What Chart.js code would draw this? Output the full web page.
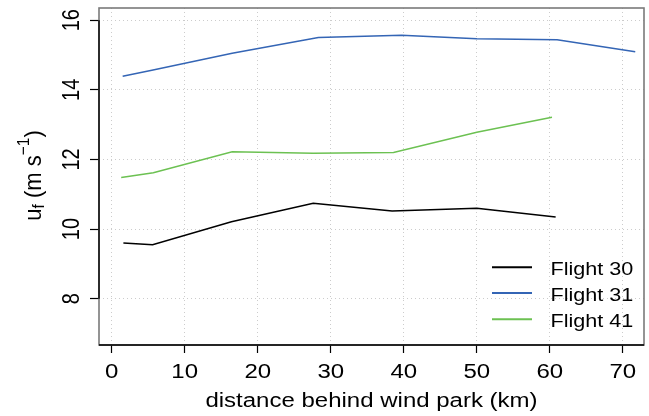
<!DOCTYPE html>
<html>
<head>
<meta charset="utf-8">
<script src="https://cdn.jsdelivr.net/npm/chart.js@4"></script>
<style>
  html, body { margin: 0; padding: 0; background: #ffffff; }
  #wrap { position: relative; width: 649px; height: 416px; }
</style>
</head>
<body>
<div id="wrap"><canvas id="c" width="649" height="416"></canvas></div>
<script>
// ---- data ----
const seriesNames = ["Flight 30", "Flight 31", "Flight 41"];
const dist30 = [1.6, 5.6, 16.4, 27.6, 38.4, 50.0, 60.8];
const u30    = [9.60, 9.55, 10.21, 10.74, 10.52, 10.60, 10.35];
const dist31 = [1.5, 5.5, 16.5, 28.3, 39.7, 50.0, 61.0, 71.7];
const u31    = [14.39, 14.56, 15.05, 15.50, 15.57, 15.47, 15.44, 15.09];
const dist41 = [1.3, 5.7, 16.5, 27.6, 38.6, 50.0, 60.3];
const u41    = [11.48, 11.62, 12.22, 12.18, 12.20, 12.78, 13.21];
const xTicks = [0, 10, 20, 30, 40, 50, 60, 70];
const yTicks = [8, 10, 12, 14, 16];
const xTitle = "distance behind wind park (km)";

const colors = ["#000000", "#3465b5", "#6cc152"];
const FONT = "'Liberation Sans', Arial, Helvetica, sans-serif";
const SX = 1.2;   // horizontal stretch of the reference image
const FS = 20;

function pts(xs, ys) { return xs.map((x, i) => ({ x: x, y: ys[i] })); }

function sText(ctx, txt, x, y, size, align, baseline, rot) {
  ctx.save();
  ctx.translate(x, y);
  ctx.scale(SX, 1);
  if (rot) ctx.rotate(-Math.PI / 2);
  ctx.font = size + "px " + FONT;
  ctx.textAlign = align;
  ctx.textBaseline = baseline;
  ctx.fillStyle = "#000";
  ctx.fillText(txt, 0, 0);
  ctx.restore();
}

const decor = {
  id: "decor",
  afterDraw(chart) {
    const ctx = chart.ctx;
    const a = chart.chartArea;
    const xs = chart.scales.x, ys = chart.scales.y;
    // box
    ctx.save();
    ctx.strokeStyle = "#7a7a7a";
    ctx.lineWidth = 1.6;
    ctx.strokeRect(a.left, a.top, a.right - a.left, a.bottom - a.top);
    // axis lines
    ctx.strokeStyle = "#000";
    ctx.lineWidth = 1.4;
    ctx.beginPath();
    ctx.moveTo(a.left, a.bottom);
    ctx.lineTo(a.right, a.bottom);
    ctx.stroke();
    ctx.beginPath();
    ctx.moveTo(a.left, ys.getPixelForValue(yTicks[yTicks.length - 1]));
    ctx.lineTo(a.left, ys.getPixelForValue(yTicks[0]));
    ctx.stroke();
    ctx.restore();

    // x tick labels
    xs.ticks.forEach(t => {
      sText(ctx, String(t.value), xs.getPixelForValue(t.value), 377.5, FS, "center", "alphabetic", false);
    });
    // y tick labels (rotated)
    ys.ticks.forEach(t => {
      sText(ctx, String(t.value), 78.5, ys.getPixelForValue(t.value), FS, "center", "alphabetic", true);
    });
    // x title
    sText(ctx, xTitle, (a.left + a.right) / 2, 407, FS, "center", "alphabetic", false);

    // y title: u_f (m s^-1)
    const parts = [
      { t: "u", s: 22, dy: 0 },
      { t: "f", s: 15.5, dy: 3 },
      { t: " (m s", s: 22, dy: 0 },
      { t: "\u22121", s: 15.5, dy: -10 },
      { t: ")", s: 22, dy: 0 }
    ];
    ctx.save();
    let total = 0;
    parts.forEach(p => { ctx.font = p.s + "px " + FONT; p.w = ctx.measureText(p.t).width; total += p.w; });
    ctx.translate(40.5, (a.top + a.bottom) / 2 - 1);
    ctx.scale(SX * 0.92, 1);
    ctx.rotate(-Math.PI / 2);
    ctx.fillStyle = "#000";
    ctx.textAlign = "left";
    ctx.textBaseline = "alphabetic";
    let cx = -total / 2;
    parts.forEach(p => {
      ctx.font = p.s + "px " + FONT;
      ctx.fillText(p.t, cx, p.dy);
      cx += p.w;
    });
    ctx.restore();

    // legend
    const ly = [267.3, 293.0, 319.3];
    chart.data.datasets.forEach((ds, i) => {
      ctx.save();
      ctx.strokeStyle = ds.borderColor;
      ctx.lineWidth = 2;
      ctx.beginPath();
      ctx.moveTo(492, ly[i]);
      ctx.lineTo(532, ly[i]);
      ctx.stroke();
      ctx.restore();
      sText(ctx, ds.label, 550.5, ly[i] + 7.5, 18, "left", "alphabetic", false);
    });
  }
};

const gridCommon = { color: "#cccccc", lineWidth: 1, tickColor: "#000", tickWidth: 1.2, drawTicks: true };

new Chart(document.getElementById("c"), {
  type: "line",
  data: {
    datasets: [
      { label: seriesNames[0], data: pts(dist30, u30), borderColor: colors[0] },
      { label: seriesNames[1], data: pts(dist31, u31), borderColor: colors[1] },
      { label: seriesNames[2], data: pts(dist41, u41), borderColor: colors[2] }
    ].map(d => Object.assign(d, { borderWidth: 1.5, pointRadius: 0, tension: 0, fill: false }))
  },
  options: {
    responsive: false,
    animation: false,
    devicePixelRatio: 1,
    layout: { padding: { top: 8, right: 5, left: 0, bottom: 0 } },
    plugins: { legend: { display: false }, tooltip: { enabled: false } },
    scales: {
      x: {
        type: "linear",
        position: "bottom",
        min: -1.74,
        max: 72.9,
        afterBuildTicks: s => { s.ticks = xTicks.map(v => ({ value: v })); },
        afterFit: s => { s.height = 71; },
        ticks: { display: false },
        grid: Object.assign({}, gridCommon, { tickLength: 8 }),
        border: { display: false, dash: [1, 3] }
      },
      y: {
        type: "linear",
        position: "left",
        min: 6.67,
        max: 16.35,
        afterBuildTicks: s => { s.ticks = yTicks.map(v => ({ value: v })); },
        afterFit: s => { s.width = 99; },
        ticks: { display: false },
        grid: Object.assign({}, gridCommon, { tickLength: 9 }),
        border: { display: false, dash: [1, 3] }
      }
    }
  },
  plugins: [decor]
});
</script>
</body>
</html>
